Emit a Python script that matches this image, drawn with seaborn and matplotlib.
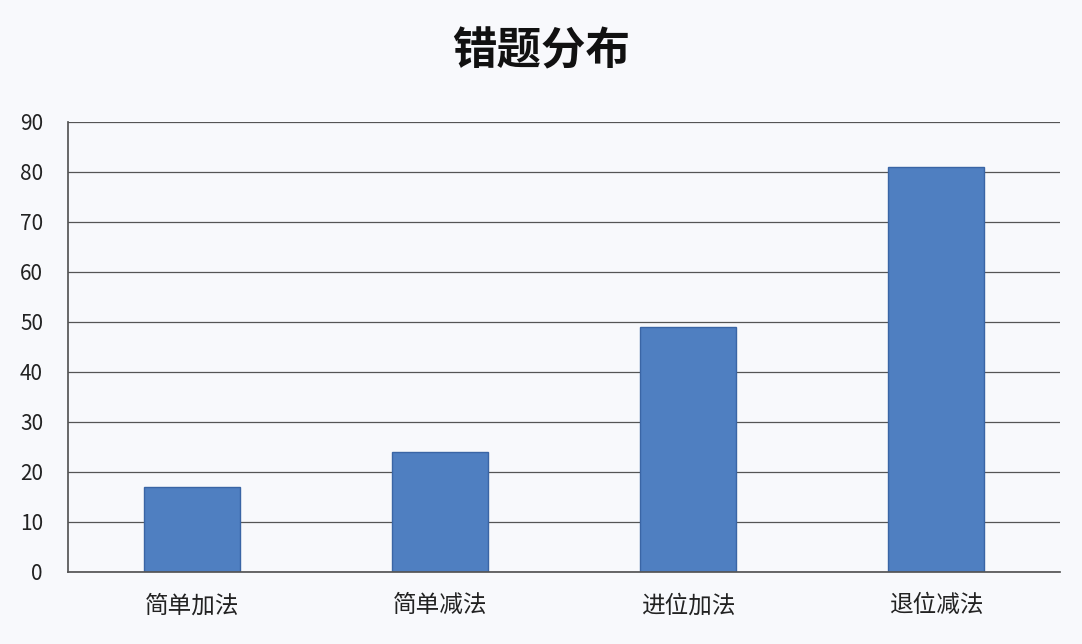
import matplotlib
matplotlib.use('Agg')
import matplotlib.pyplot as plt
import seaborn as sns
import pandas as pd

categories = ['简单加法', '简单减法', '进位加法', '退位减法']
values = [17, 24, 49, 81]
y_ticks = list(range(0, 100, 10))

sns.set_theme(style='white')
plt.rcParams['font.family'] = ['Noto Sans CJK SC', 'DejaVu Sans']

df = pd.DataFrame({'类别': categories, '数量': values})

bg = '#f8f9fc'
fig = plt.figure(figsize=(10.82, 6.44), dpi=100, facecolor=bg)
ax = fig.add_axes([68 / 1082, 72 / 644, 992 / 1082, 450 / 644], facecolor=bg)

sns.barplot(data=df, x='类别', y='数量', color='#4f7fc1', width=0.39,
            edgecolor='#3a65a5', linewidth=1, saturation=1, ax=ax)

ax.set_ylim(0, 90)
ax.set_yticks(y_ticks)
ax.yaxis.grid(True, color='#555555', linewidth=0.9)
ax.set_axisbelow(True)
for s in ['top', 'right', 'left']:
    ax.spines[s].set_visible(False)
ax.spines['bottom'].set_color('#555555')
ax.spines['left'].set_visible(True)
ax.spines['left'].set_color('#555555')
ax.tick_params(axis='y', labelsize=15, colors='#222222', pad=12)
ax.tick_params(axis='x', labelsize=17, colors='#222222', pad=10)
ax.set_xlabel('')
ax.set_ylabel('')

fig.text(0.5, 0.92, '错题分布', ha='center', va='center', fontsize=32,
         fontweight='bold', color='#111111')

fig.savefig('out.png', dpi=100, facecolor=bg)
